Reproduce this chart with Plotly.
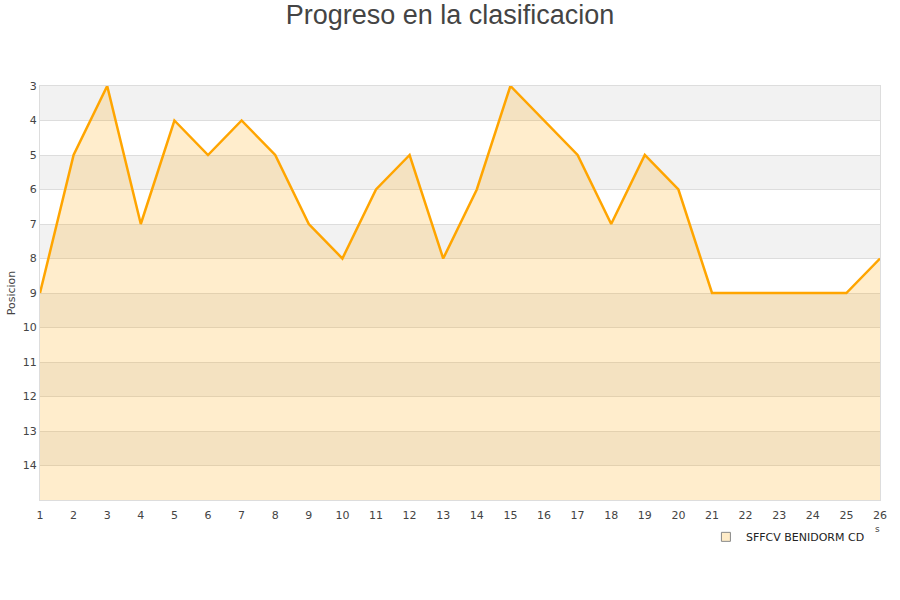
import plotly.graph_objects as go

# jornadas y posiciones
jornadas = list(range(1, 27))
posiciones = [9, 5, 3, 7, 4, 5, 4, 5, 7, 8, 6, 5, 8, 6, 3, 4, 5, 7, 5, 6, 9, 9, 9, 9, 9, 8]
equipo = "SFFCV BENIDORM CD"
y_ticks = list(range(3, 15))
y_top, y_bottom = 3, 15

fig = go.Figure()

# linea base invisible para rellenar hasta el fondo del eje
fig.add_trace(go.Scatter(
    x=jornadas, y=[y_bottom] * len(jornadas),
    mode="lines", line=dict(width=0), showlegend=False, hoverinfo="skip"
))
fig.add_trace(go.Scatter(
    x=jornadas, y=posiciones, name=equipo, showlegend=False,
    mode="lines", fill="tonexty", fillcolor="rgba(255,165,0,0.2)",
    line=dict(color="#ffa500", width=2.5)
))
# entrada de leyenda con cuadradito
fig.add_trace(go.Scatter(
    x=[None], y=[None], name=equipo, mode="markers",
    marker=dict(symbol="square", size=9, color="#ffecc8",
                line=dict(color="#888888", width=1))
))

# bandas alternas de fondo
shapes = []
for i, lo in enumerate(range(y_top, y_bottom)):
    if i % 2 == 0:
        shapes.append(dict(type="rect", xref="paper", yref="y", x0=0, x1=1,
                           y0=lo, y1=lo + 1, fillcolor="#f2f2f2",
                           line=dict(width=0), layer="below"))

fig.update_layout(
    width=900, height=600,
    title=dict(text="Progreso en la clasificacion", x=0.5, xanchor="center",
               y=0.975, yanchor="middle",
               font=dict(family="Liberation Sans", size=27, color="#444444")),
    font=dict(family="DejaVu Sans", size=11, color="#444444"),
    plot_bgcolor="white", paper_bgcolor="white",
    margin=dict(l=40, r=20, t=86, b=100),
    shapes=shapes,
    showlegend=True,
    legend=dict(orientation="h", x=0.988, xanchor="right", y=-0.089, yanchor="middle",
                font=dict(size=11, color="#222222")),
    xaxis=dict(range=[1, 26], tickvals=jornadas, showgrid=False, zeroline=False,
               showline=True, linecolor="#dddddd", mirror=True,
               ticks="outside", ticklen=5, tickcolor="rgba(0,0,0,0)",
               automargin=False, tickfont=dict(size=11)),
    yaxis=dict(range=[y_bottom, y_top], tickvals=y_ticks, showgrid=True,
               gridcolor="#dddddd", zeroline=False, showline=True,
               linecolor="#dddddd", mirror=True, ticks="", automargin=False,
               title=dict(text="Posicion", font=dict(size=11), standoff=4),
               tickfont=dict(size=11)),
)

fig.add_annotation(text="s", x=1.002, xref="paper", y=-0.087, yref="paper",
                   showarrow=False, font=dict(size=9, color="#444444"))

fig.write_html("out.html", config={"displayModeBar": False},
               post_script="document.body.style.margin = '0';")
